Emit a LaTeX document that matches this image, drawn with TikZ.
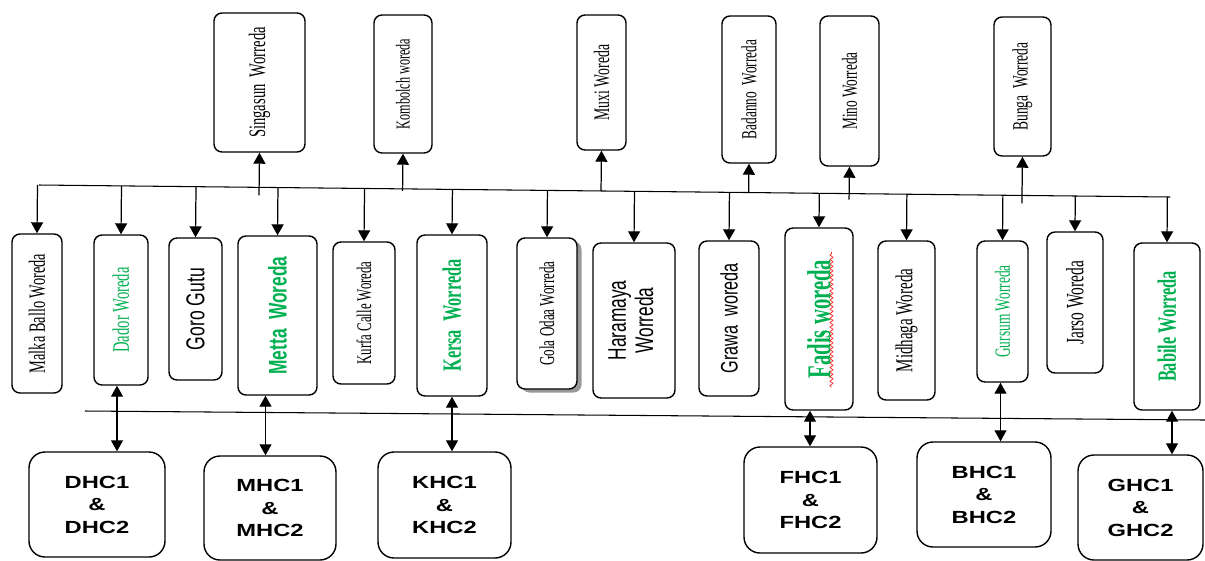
\documentclass[tikz,border=0pt]{standalone}
\usepackage{fontspec}
\usepackage{graphicx}
\usepackage{xcolor}
\usepackage{tikz}
\usetikzlibrary{arrows.meta, calc, shadows, decorations.pathmorphing}

\newfontfamily\nserif[FakeStretch=0.62]{Liberation Serif}
\newfontfamily\nsans[FakeStretch=0.68]{Liberation Sans}
\newfontfamily\wsans[FakeStretch=1.35]{Liberation Sans}
\definecolor{wgreen}{HTML}{00B050}
\newcommand{\vtxt}[2]{\rotatebox{90}{\fontsize{#1}{#1}\selectfont #2}}

\begin{document}
\begin{tikzpicture}[
    x=0.2mm, y=-0.2mm,
    wbox/.style={draw, rounded corners=1.6mm, line width=0.8pt, inner sep=0pt,
                 fill=white, font=\nserif},
    sz/.style 2 args={minimum width=#1*0.2mm, minimum height=#2*0.2mm},
    hcbox/.style={draw, rounded corners=3.2mm, line width=0.8pt, align=center,
                  font=\wsans\bfseries\fontsize{10}{12.8}\selectfont},
    arr/.style={-{Triangle[width=2.4mm,length=2.2mm]}, line width=0.7pt},
    dbl/.style={{Triangle[width=2.4mm,length=2.2mm]}-{Triangle[width=2.4mm,length=2.2mm]},
                line width=0.7pt},
    bus/.style={line width=0.6pt}
  ]
  \useasboundingbox (0,0) rectangle (1205,560);

  \coordinate (busL) at (39,185);
  \coordinate (busR) at (1170,197);
  \coordinate (lowL) at (85,411);
  \coordinate (lowR) at (1205,420);
  \draw[bus] (busL) -- (busR);
  \draw[bus] (lowL) -- (lowR);

  \node[wbox, sz={91}{139}] (sing) at (259.5,82.5) {\vtxt{13.4}{Singasun~~Worreda}};
  \node[wbox, sz={58}{138}] (komb) at (403,84) {\vtxt{11.2}{Kombolch woreda}};
  \node[wbox, sz={49}{135}] (muxi) at (601.5,82.5) {\vtxt{12.6}{Muxi Woreda}};
  \node[wbox, sz={54}{147}] (bada) at (749,89.5) {\vtxt{12.2}{Badanno~~Worreda}};
  \node[wbox, sz={59}{150}] (mino) at (849.5,91) {\vtxt{12.2}{Mino Worreda}};
  \node[wbox, sz={57}{139}] (bung) at (1022.5,86.5) {\vtxt{12.4}{Bunga~~Worreda}};

  \node[wbox, sz={50}{159}] (malka) at (37,313.5) {\vtxt{13.2}{Malka Ballo Woreda}};
  \node[wbox, sz={54}{150}, text=wgreen] (dador) at (121,310) {\vtxt{13.4}{Dador Woreda}};
  \node[wbox, sz={53}{142}, font=\nsans] (goro) at (195.5,309) {\vtxt{14.7}{Goro Gutu}};
  \node[wbox, sz={79}{159}, font=\nsans\bfseries, text=wgreen] (metta) at (277.5,315.5)
    {\vtxt{14.5}{Metta~~Woreda}};
  \node[wbox, sz={62}{142}] (kurfa) at (364,313) {\vtxt{11.8}{Kurfa Calle Woreda}};
  \node[wbox, sz={70}{161}, font=\nserif\bfseries, text=wgreen] (kersa) at (452,315.5)
    {\vtxt{15}{Kersa~~Worreda}};
  \node[wbox, sz={60}{151},
        drop shadow={shadow xshift=0.9mm, shadow yshift=-0.7mm, fill=gray!80, opacity=1}]
    (gola) at (547,313.5) {\vtxt{12}{Gola Odaa Worreda}};
  \node[wbox, sz={82}{155}, font=\nsans] (hara) at (634,320.5)
    {\rotatebox{90}{\fontsize{14.5}{15.5}\selectfont
     \begin{tabular}{@{}c@{}}Haramaya\\Worreda\end{tabular}}};
  \node[wbox, sz={60}{155}, font=\nsans] (grawa) at (729,318.5) {\vtxt{13.6}{Grawa~~woreda}};
  \node[wbox, sz={68}{182}, font=\nserif\bfseries, text=wgreen] (fadis) at (819,319)
    {\vtxt{19}{Fadis woreda}};
  \node[wbox, sz={57}{159}] (midh) at (906.5,320.5) {\vtxt{13.8}{Midhaga Woreda}};
  \node[wbox, sz={51}{141}, text=wgreen] (gurs) at (1002.5,311.5) {\vtxt{12.3}{Gursum Worreda}};
  \node[wbox, sz={56}{141}] (jars) at (1075,302.5) {\vtxt{14.2}{Jarso Woreda}};
  \node[wbox, sz={66}{167}, font=\nserif\bfseries, text=wgreen] (babi) at (1167,326.5)
    {\vtxt{15}{Babile Worreda}};

  \draw[red!85, line width=0.4pt, decorate,
        decoration={snake, amplitude=0.3mm, segment length=0.9mm}]
    ([xshift=2.5mm, yshift=-13.6mm]fadis.center) -- ([xshift=2.5mm, yshift=13.4mm]fadis.center);

  \node[hcbox, sz={136}{105}] (dhc) at (97,504.5) {DHC1\\ \&\\ DHC2};
  \node[hcbox, sz={132}{104}] (mhc) at (270,508) {MHC1\\ \&\\ MHC2};
  \node[hcbox, sz={133}{106}] (khc) at (444.5,505) {KHC1\\ \&\\ KHC2};
  \node[hcbox, sz={133}{106}] (fhc) at (810.5,500) {FHC1\\ \&\\ FHC2};
  \node[hcbox, sz={134}{105}] (bhc) at (984,494.5) {BHC1\\ \&\\ BHC2};
  \node[hcbox, sz={125}{105}] (ghc) at (1140.5,507.5) {GHC1\\ \&\\ GHC2};

  \foreach \n/\e in {sing/1.6mm, komb/0.4mm, muxi/0mm, bada/0mm, mino/1.2mm, bung/1.6mm}
    \draw[arr, shorten <=-\e] ($(busL)!(\n.south)!(busR)$) -- (\n.south);
  \foreach \n in {malka, dador, goro, metta, kurfa, kersa, gola, hara, grawa, fadis,
                  midh, gurs, jars, babi}
    \draw[arr] ($(busL)!(\n.north)!(busR)$) -- (\n.north);
  \foreach \m/\h/\s in {dador/dhc/-0.8mm, metta/mhc/-2.4mm, kersa/khc/0mm,
                        fadis/fhc/-1.8mm, gurs/bhc/-0.4mm, babi/ghc/1mm}
    \draw[dbl] ([xshift=\s]\m.south) -- ([xshift=\s]\m.south |- \h.north);
\end{tikzpicture}
\end{document}
